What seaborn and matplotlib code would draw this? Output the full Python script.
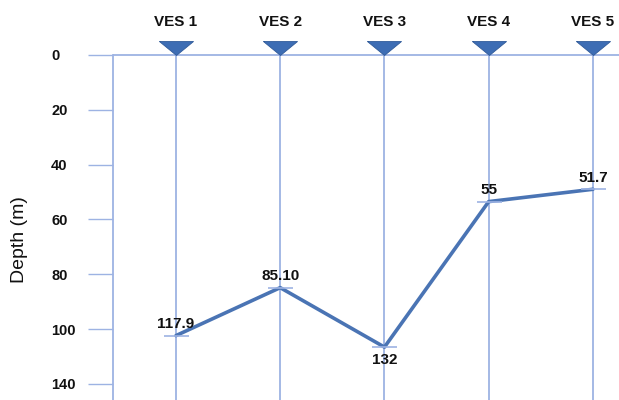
import matplotlib
matplotlib.use("Agg")
import matplotlib.pyplot as plt
import seaborn as sns
import pandas as pd

# data
stations = ["VES 1", "VES 2", "VES 3", "VES 4", "VES 5"]
depth_plot = [102.4, 84.9, 106.6, 53.5, 49.0]
depth_labels = ["117.9", "85.10", "132", "55", "51.7"]
ytick_pos = [0, 20, 40, 60, 80, 100, 120]
ytick_labels = ["0", "20", "40", "60", "80", "100", "140"]

GRID = "#9db3e3"
LINE = "#4a74b4"
TRI = "#3d6db4"


def main():
    sns.set_theme(style="white")
    plt.rcParams["font.family"] = ["Liberation Sans", "DejaVu Sans"]

    df = pd.DataFrame({"x": range(len(stations)), "depth": depth_plot})

    fig = plt.figure(figsize=(6.19, 4), dpi=100)
    ax = fig.add_axes([113 / 619, 0, 506 / 619, 370 / 400])

    bottom = 125.9
    ax.set_xlim(-0.604, 4.25)
    ax.set_ylim(bottom, -9.12)

    # station verticals and surface line
    ax.vlines(df["x"], 0, bottom, color=GRID, lw=1.3, zorder=1)
    ax.axhline(0, color=GRID, lw=1.3, zorder=1)

    sns.lineplot(data=df, x="x", y="depth", ax=ax, color=LINE, lw=2.6,
                 marker="_", markersize=18, markeredgecolor=GRID,
                 markeredgewidth=1.2, zorder=3)

    # station triangles at the surface
    tri = [(-1, 0.82), (1, 0.82), (0, 0), (-1, 0.82)]
    ax.scatter(df["x"], [0] * len(stations), marker=tri, s=24.5 ** 2,
               color=TRI, edgecolor="#2f5a99", linewidth=0.6, zorder=4,
               clip_on=False)

    for i, (d, lab) in enumerate(zip(depth_plot, depth_labels)):
        below = lab == "132"
        ax.annotate(lab, (i, d), xytext=(0, -4 if below else 3),
                    textcoords="offset points", ha="center",
                    va="top" if below else "bottom",
                    fontsize=11, fontweight="bold", color="#111111")

    for s in ["top", "right", "bottom"]:
        ax.spines[s].set_visible(False)
    ax.spines["left"].set_color(GRID)
    ax.spines["left"].set_linewidth(1.3)
    ax.spines["left"].set_bounds(0, bottom)

    ax.set_yticks(ytick_pos)
    ax.set_yticklabels(ytick_labels, ha="left", fontweight="bold", fontsize=10.5)
    ax.tick_params(axis="y", length=18, width=1.0, color=GRID, pad=26.6,
                   left=True, labelcolor="#111111")

    ax.xaxis.tick_top()
    ax.set_xticks(df["x"])
    ax.set_xticklabels(stations, fontweight="bold", fontsize=11)
    ax.tick_params(axis="x", length=0, pad=1, labelcolor="#111111")

    ax.set_xlabel("")
    ax.set_ylabel("")
    fig.text(20 / 619, 1 - 240 / 400, "Depth (m)", rotation=90,
             ha="center", va="center", fontsize=14, color="#111111")

    fig.savefig("out.png", dpi=100)


if __name__ == "__main__":
    main()
